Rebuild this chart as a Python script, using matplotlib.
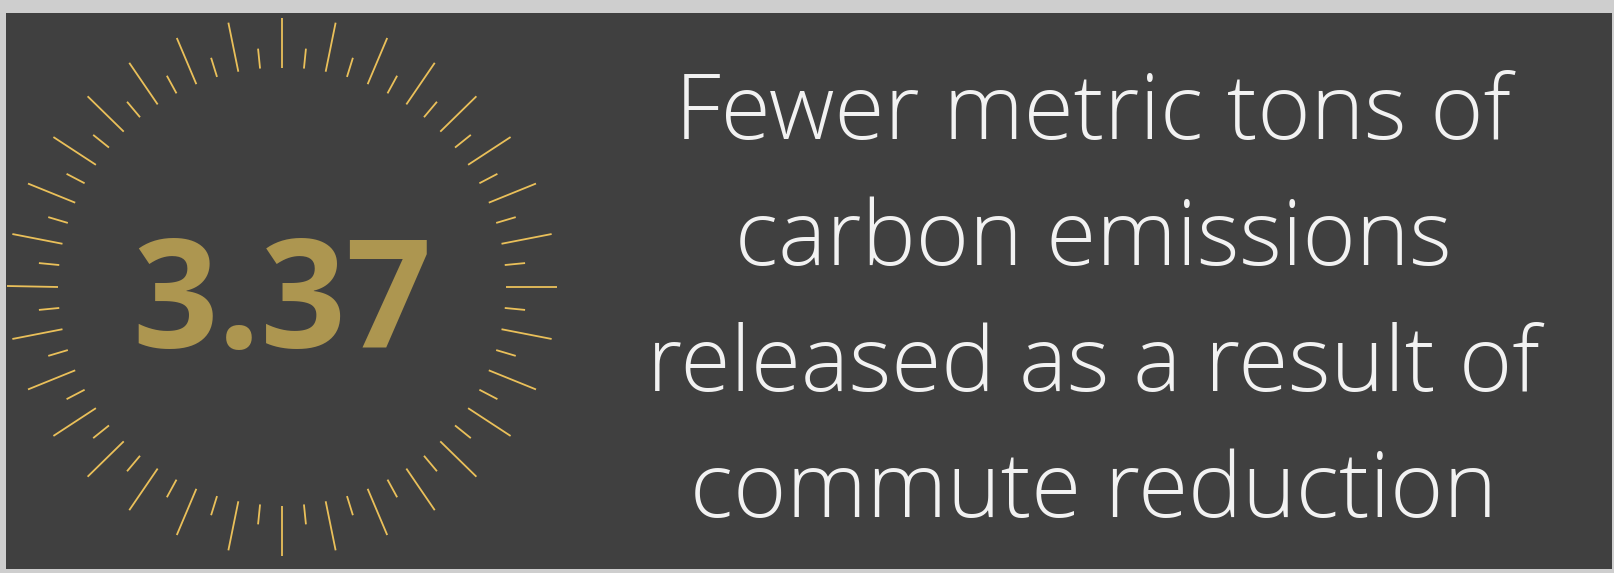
import numpy as np
import matplotlib
matplotlib.use("Agg")
import matplotlib.pyplot as plt
from matplotlib.patches import Rectangle

W, H = 1614, 573
DPI = 100

# content
value = "3.37"
lines = ["Fewer metric tons of",
         "carbon emissions",
         "released as a result of",
         "commute reduction"]

# sunburst: 64 rays, long ones on every second ray
n_rays = 64
cx, cy = 282, 286.5
r_in = 219
r_long = 269
r_short = 239
x_stretch = 1.022

bg_col = "#cecece"
panel_col = "#404040"
ray_col = "#eac05a"
num_col = "#ad9650"
txt_col = "#f2f2f2"

fig = plt.figure(figsize=(W / DPI, H / DPI), dpi=DPI)
fig.patch.set_facecolor(bg_col)
ax = fig.add_axes([0, 0, 1, 1])
ax.set_xlim(0, W)
ax.set_ylim(H, 0)
ax.axis("off")

panel = Rectangle((6, 13), 1606, 556, facecolor=panel_col, edgecolor="none")
ax.add_patch(panel)

for k in range(n_rays):
    a = np.deg2rad(k * 360 / n_rays)
    r_out = r_long if k % 2 == 0 else r_short
    xs = [cx + r_in * np.cos(a) * x_stretch, cx + r_out * np.cos(a) * x_stretch]
    ys = [cy - r_in * np.sin(a), cy - r_out * np.sin(a)]
    ln, = ax.plot(xs, ys, color=ray_col, lw=1.3, solid_capstyle="butt")
    ln.set_clip_path(panel)

ax.text(cx, 348, value, ha="center", va="baseline", color=num_col,
        fontsize=108, fontweight="bold", family="Open Sans")

baselines = [139, 265, 391, 517]
for s, yb in zip(lines, baselines):
    ax.text(1093, yb, s, ha="center", va="baseline", color=txt_col,
            fontsize=65.5, fontweight="light", family="Open Sans")

fig.savefig("out.png", dpi=DPI, facecolor=bg_col)
